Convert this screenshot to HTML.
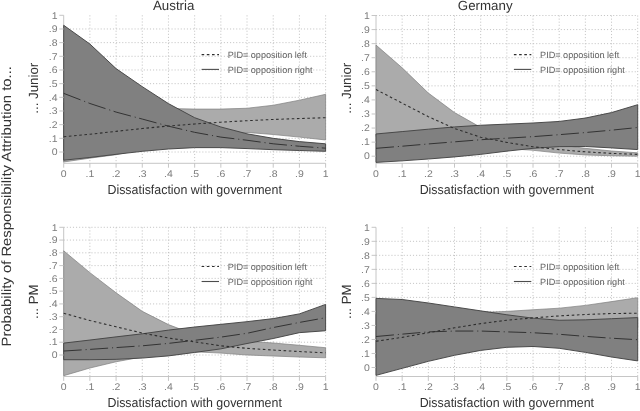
<!DOCTYPE html>
<html><head><meta charset="utf-8"><title>chart</title>
<style>
html,body{margin:0;padding:0;background:#fff;}
body{width:640px;height:411px;overflow:hidden;font-family:"Liberation Sans",sans-serif;}
svg{display:block;will-change:transform;}
text{font-family:"Liberation Sans",sans-serif;text-rendering:geometricPrecision;}
.g{stroke:#c0c0c0;stroke-width:0.9;stroke-dasharray:1.1 1.98;fill:none;}
.ax{stroke:#c0c0c0;stroke-width:0.9;fill:none;}
.tl{font-size:9.7px;fill:#7c7c7c;}
.t{font-size:13.3px;fill:#333333;}
.lg{font-size:9.1px;fill:#616161;}
.la{fill:#ababab;stroke:#7e7e7e;stroke-width:0.7;stroke-linejoin:miter;}
.da{fill:#808080;stroke:#444444;stroke-width:0.95;stroke-linejoin:miter;}
.dt{fill:none;stroke:#2e2e2e;stroke-width:1.08;stroke-dasharray:2.6 2.6;}
.dd{fill:none;stroke:#2e2e2e;stroke-width:0.95;stroke-dasharray:18 3.9 1.1 3.5;}
.ls{fill:none;stroke:#4c4c4c;stroke-width:1.1;}
</style></head>
<body>
<svg width="640" height="411" viewBox="0 0 640 411">
<rect x="0" y="0" width="640" height="411" fill="#ffffff"/>
<line x1="89.89" y1="15.3" x2="89.89" y2="163.3" class="g"/>
<line x1="116.08" y1="15.3" x2="116.08" y2="163.3" class="g"/>
<line x1="142.27" y1="15.3" x2="142.27" y2="163.3" class="g"/>
<line x1="168.46" y1="15.3" x2="168.46" y2="163.3" class="g"/>
<line x1="194.65" y1="15.3" x2="194.65" y2="163.3" class="g"/>
<line x1="220.84" y1="15.3" x2="220.84" y2="163.3" class="g"/>
<line x1="247.03" y1="15.3" x2="247.03" y2="163.3" class="g"/>
<line x1="273.22" y1="15.3" x2="273.22" y2="163.3" class="g"/>
<line x1="299.41" y1="15.3" x2="299.41" y2="163.3" class="g"/>
<line x1="325.6" y1="15.3" x2="325.6" y2="163.3" class="g"/>
<line x1="63.7" y1="152" x2="325.6" y2="152" class="g"/>
<line x1="63.7" y1="138.33" x2="325.6" y2="138.33" class="g"/>
<line x1="63.7" y1="124.66" x2="325.6" y2="124.66" class="g"/>
<line x1="63.7" y1="110.99" x2="325.6" y2="110.99" class="g"/>
<line x1="63.7" y1="97.32" x2="325.6" y2="97.32" class="g"/>
<line x1="63.7" y1="83.65" x2="325.6" y2="83.65" class="g"/>
<line x1="63.7" y1="69.98" x2="325.6" y2="69.98" class="g"/>
<line x1="63.7" y1="56.31" x2="325.6" y2="56.31" class="g"/>
<line x1="63.7" y1="42.64" x2="325.6" y2="42.64" class="g"/>
<line x1="63.7" y1="28.97" x2="325.6" y2="28.97" class="g"/>
<line x1="63.7" y1="15.3" x2="63.7" y2="163.3" class="ax"/>
<line x1="63.7" y1="163.3" x2="325.6" y2="163.3" class="ax"/>
<polygon points="63.7,102.79 89.89,104.84 116.08,106.21 142.27,107.57 168.46,108.53 194.65,109.08 220.84,109.08 247.03,108.26 273.22,105.25 299.41,100.19 325.6,94.31 325.6,139.97 299.41,137.1 273.22,134.5 247.03,132.45 220.84,133.55 194.65,138.33 168.46,143.8 142.27,149.27 116.08,154.73 89.89,158.15 63.7,161.98" class="la"/>
<polygon points="63.7,25.28 89.89,44.01 116.08,68.61 142.27,86.66 168.46,103.61 194.65,117.69 220.84,126.98 247.03,133.82 273.22,138.33 299.41,141.61 325.6,143.8 325.6,151.32 299.41,150.5 273.22,149.68 247.03,148.58 220.84,147.63 194.65,147.63 168.46,148.99 142.27,151.32 116.08,154.32 89.89,157.47 63.7,160.2" class="da"/>
<polyline points="63.7,136.83 89.89,134.23 116.08,131.36 142.27,128.49 168.46,126.03 194.65,123.98 220.84,122.2 247.03,120.7 273.22,119.47 299.41,118.51 325.6,117.69" class="dt"/>
<polyline points="63.7,93.36 89.89,103.47 116.08,112.08 142.27,119.06 168.46,126.16 194.65,132.32 220.84,137.1 247.03,140.24 273.22,143.8 299.41,146.26 325.6,148.17" class="dd"/>
<line x1="59.3" y1="152" x2="63.7" y2="152" class="ax"/>
<text transform="translate(57.5,155.2) scale(1.08,1)" class="tl" text-anchor="end">0</text>
<line x1="63.7" y1="163.3" x2="63.7" y2="167.7" class="ax"/>
<text transform="translate(63.7,176.9) scale(1.08,1)" class="tl" text-anchor="middle">0</text>
<line x1="59.3" y1="138.33" x2="63.7" y2="138.33" class="ax"/>
<text transform="translate(57.5,141.53) scale(1.08,1)" class="tl" text-anchor="end">.1</text>
<line x1="89.89" y1="163.3" x2="89.89" y2="167.7" class="ax"/>
<text transform="translate(89.89,176.9) scale(1.08,1)" class="tl" text-anchor="middle">.1</text>
<line x1="59.3" y1="124.66" x2="63.7" y2="124.66" class="ax"/>
<text transform="translate(57.5,127.86) scale(1.08,1)" class="tl" text-anchor="end">.2</text>
<line x1="116.08" y1="163.3" x2="116.08" y2="167.7" class="ax"/>
<text transform="translate(116.08,176.9) scale(1.08,1)" class="tl" text-anchor="middle">.2</text>
<line x1="59.3" y1="110.99" x2="63.7" y2="110.99" class="ax"/>
<text transform="translate(57.5,114.19) scale(1.08,1)" class="tl" text-anchor="end">.3</text>
<line x1="142.27" y1="163.3" x2="142.27" y2="167.7" class="ax"/>
<text transform="translate(142.27,176.9) scale(1.08,1)" class="tl" text-anchor="middle">.3</text>
<line x1="59.3" y1="97.32" x2="63.7" y2="97.32" class="ax"/>
<text transform="translate(57.5,100.52) scale(1.08,1)" class="tl" text-anchor="end">.4</text>
<line x1="168.46" y1="163.3" x2="168.46" y2="167.7" class="ax"/>
<text transform="translate(168.46,176.9) scale(1.08,1)" class="tl" text-anchor="middle">.4</text>
<line x1="59.3" y1="83.65" x2="63.7" y2="83.65" class="ax"/>
<text transform="translate(57.5,86.85) scale(1.08,1)" class="tl" text-anchor="end">.5</text>
<line x1="194.65" y1="163.3" x2="194.65" y2="167.7" class="ax"/>
<text transform="translate(194.65,176.9) scale(1.08,1)" class="tl" text-anchor="middle">.5</text>
<line x1="59.3" y1="69.98" x2="63.7" y2="69.98" class="ax"/>
<text transform="translate(57.5,73.18) scale(1.08,1)" class="tl" text-anchor="end">.6</text>
<line x1="220.84" y1="163.3" x2="220.84" y2="167.7" class="ax"/>
<text transform="translate(220.84,176.9) scale(1.08,1)" class="tl" text-anchor="middle">.6</text>
<line x1="59.3" y1="56.31" x2="63.7" y2="56.31" class="ax"/>
<text transform="translate(57.5,59.51) scale(1.08,1)" class="tl" text-anchor="end">.7</text>
<line x1="247.03" y1="163.3" x2="247.03" y2="167.7" class="ax"/>
<text transform="translate(247.03,176.9) scale(1.08,1)" class="tl" text-anchor="middle">.7</text>
<line x1="59.3" y1="42.64" x2="63.7" y2="42.64" class="ax"/>
<text transform="translate(57.5,45.84) scale(1.08,1)" class="tl" text-anchor="end">.8</text>
<line x1="273.22" y1="163.3" x2="273.22" y2="167.7" class="ax"/>
<text transform="translate(273.22,176.9) scale(1.08,1)" class="tl" text-anchor="middle">.8</text>
<line x1="59.3" y1="28.97" x2="63.7" y2="28.97" class="ax"/>
<text transform="translate(57.5,32.17) scale(1.08,1)" class="tl" text-anchor="end">.9</text>
<line x1="299.41" y1="163.3" x2="299.41" y2="167.7" class="ax"/>
<text transform="translate(299.41,176.9) scale(1.08,1)" class="tl" text-anchor="middle">.9</text>
<line x1="59.3" y1="15.3" x2="63.7" y2="15.3" class="ax"/>
<text transform="translate(57.5,18.5) scale(1.08,1)" class="tl" text-anchor="end">1</text>
<line x1="325.6" y1="163.3" x2="325.6" y2="167.7" class="ax"/>
<text transform="translate(325.6,176.9) scale(1.08,1)" class="tl" text-anchor="middle">1</text>
<text transform="translate(194.65,193.7) scale(0.954,1)" class="t" style="font-size:13px" text-anchor="middle">Dissatisfaction with government</text>
<line x1="201.6" y1="54.6" x2="219" y2="54.6" class="dt"/>
<line x1="201.6" y1="69.4" x2="219" y2="69.4" class="ls"/>
<text x="227.8" y="57.8" class="lg">PID= opposition left</text>
<text x="227.8" y="72.8" class="lg">PID= opposition right</text>
<line x1="402.17" y1="15.5" x2="402.17" y2="163.3" class="g"/>
<line x1="428.34" y1="15.5" x2="428.34" y2="163.3" class="g"/>
<line x1="454.51" y1="15.5" x2="454.51" y2="163.3" class="g"/>
<line x1="480.68" y1="15.5" x2="480.68" y2="163.3" class="g"/>
<line x1="506.85" y1="15.5" x2="506.85" y2="163.3" class="g"/>
<line x1="533.02" y1="15.5" x2="533.02" y2="163.3" class="g"/>
<line x1="559.19" y1="15.5" x2="559.19" y2="163.3" class="g"/>
<line x1="585.36" y1="15.5" x2="585.36" y2="163.3" class="g"/>
<line x1="611.53" y1="15.5" x2="611.53" y2="163.3" class="g"/>
<line x1="637.7" y1="15.5" x2="637.7" y2="163.3" class="g"/>
<line x1="376" y1="156.2" x2="637.7" y2="156.2" class="g"/>
<line x1="376" y1="142.13" x2="637.7" y2="142.13" class="g"/>
<line x1="376" y1="128.06" x2="637.7" y2="128.06" class="g"/>
<line x1="376" y1="113.99" x2="637.7" y2="113.99" class="g"/>
<line x1="376" y1="99.92" x2="637.7" y2="99.92" class="g"/>
<line x1="376" y1="85.85" x2="637.7" y2="85.85" class="g"/>
<line x1="376" y1="71.78" x2="637.7" y2="71.78" class="g"/>
<line x1="376" y1="57.71" x2="637.7" y2="57.71" class="g"/>
<line x1="376" y1="43.64" x2="637.7" y2="43.64" class="g"/>
<line x1="376" y1="29.57" x2="637.7" y2="29.57" class="g"/>
<line x1="376" y1="15.5" x2="637.7" y2="15.5" class="g"/>
<line x1="376" y1="15.5" x2="376" y2="163.3" class="ax"/>
<line x1="376" y1="163.3" x2="637.7" y2="163.3" class="ax"/>
<polygon points="376,45.05 402.17,67.84 428.34,93.03 454.51,112.58 480.68,127.36 506.85,135.09 533.02,140.72 559.19,144.94 585.36,148.32 611.53,150.99 637.7,152.82 637.7,156.2 611.53,155.78 585.36,154.93 559.19,153.1 533.02,150.29 506.85,148.46 480.68,146.35 454.51,144.24 428.34,142.13 402.17,139.32 376,136.5" class="la"/>
<polygon points="376,133.97 402.17,131.58 428.34,129.19 454.51,126.93 480.68,125.25 506.85,124.12 533.02,122.99 559.19,121.45 585.36,118.07 611.53,112.58 637.7,104.7 637.7,149.59 611.53,147.9 585.36,146.49 559.19,146.63 533.02,148.32 506.85,151.13 480.68,154.37 454.51,156.9 428.34,159.01 402.17,160.84 376,162.39" class="da"/>
<polyline points="376,89.51 402.17,103.16 428.34,116.66 454.51,128.48 480.68,137.21 506.85,142.41 533.02,146.77 559.19,149.59 585.36,151.84 611.53,153.39 637.7,154.37" class="dt"/>
<polyline points="376,148.32 402.17,146.21 428.34,143.96 454.51,141.85 480.68,139.74 506.85,138.19 533.02,136.64 559.19,134.67 585.36,132.56 611.53,130.17 637.7,127.5" class="dd"/>
<line x1="371.6" y1="156.2" x2="376" y2="156.2" class="ax"/>
<text transform="translate(369.8,159.4) scale(1.08,1)" class="tl" text-anchor="end">0</text>
<line x1="376" y1="163.3" x2="376" y2="167.7" class="ax"/>
<text transform="translate(376,176.9) scale(1.08,1)" class="tl" text-anchor="middle">0</text>
<line x1="371.6" y1="142.13" x2="376" y2="142.13" class="ax"/>
<text transform="translate(369.8,145.33) scale(1.08,1)" class="tl" text-anchor="end">.1</text>
<line x1="402.17" y1="163.3" x2="402.17" y2="167.7" class="ax"/>
<text transform="translate(402.17,176.9) scale(1.08,1)" class="tl" text-anchor="middle">.1</text>
<line x1="371.6" y1="128.06" x2="376" y2="128.06" class="ax"/>
<text transform="translate(369.8,131.26) scale(1.08,1)" class="tl" text-anchor="end">.2</text>
<line x1="428.34" y1="163.3" x2="428.34" y2="167.7" class="ax"/>
<text transform="translate(428.34,176.9) scale(1.08,1)" class="tl" text-anchor="middle">.2</text>
<line x1="371.6" y1="113.99" x2="376" y2="113.99" class="ax"/>
<text transform="translate(369.8,117.19) scale(1.08,1)" class="tl" text-anchor="end">.3</text>
<line x1="454.51" y1="163.3" x2="454.51" y2="167.7" class="ax"/>
<text transform="translate(454.51,176.9) scale(1.08,1)" class="tl" text-anchor="middle">.3</text>
<line x1="371.6" y1="99.92" x2="376" y2="99.92" class="ax"/>
<text transform="translate(369.8,103.12) scale(1.08,1)" class="tl" text-anchor="end">.4</text>
<line x1="480.68" y1="163.3" x2="480.68" y2="167.7" class="ax"/>
<text transform="translate(480.68,176.9) scale(1.08,1)" class="tl" text-anchor="middle">.4</text>
<line x1="371.6" y1="85.85" x2="376" y2="85.85" class="ax"/>
<text transform="translate(369.8,89.05) scale(1.08,1)" class="tl" text-anchor="end">.5</text>
<line x1="506.85" y1="163.3" x2="506.85" y2="167.7" class="ax"/>
<text transform="translate(506.85,176.9) scale(1.08,1)" class="tl" text-anchor="middle">.5</text>
<line x1="371.6" y1="71.78" x2="376" y2="71.78" class="ax"/>
<text transform="translate(369.8,74.98) scale(1.08,1)" class="tl" text-anchor="end">.6</text>
<line x1="533.02" y1="163.3" x2="533.02" y2="167.7" class="ax"/>
<text transform="translate(533.02,176.9) scale(1.08,1)" class="tl" text-anchor="middle">.6</text>
<line x1="371.6" y1="57.71" x2="376" y2="57.71" class="ax"/>
<text transform="translate(369.8,60.91) scale(1.08,1)" class="tl" text-anchor="end">.7</text>
<line x1="559.19" y1="163.3" x2="559.19" y2="167.7" class="ax"/>
<text transform="translate(559.19,176.9) scale(1.08,1)" class="tl" text-anchor="middle">.7</text>
<line x1="371.6" y1="43.64" x2="376" y2="43.64" class="ax"/>
<text transform="translate(369.8,46.84) scale(1.08,1)" class="tl" text-anchor="end">.8</text>
<line x1="585.36" y1="163.3" x2="585.36" y2="167.7" class="ax"/>
<text transform="translate(585.36,176.9) scale(1.08,1)" class="tl" text-anchor="middle">.8</text>
<line x1="371.6" y1="29.57" x2="376" y2="29.57" class="ax"/>
<text transform="translate(369.8,32.77) scale(1.08,1)" class="tl" text-anchor="end">.9</text>
<line x1="611.53" y1="163.3" x2="611.53" y2="167.7" class="ax"/>
<text transform="translate(611.53,176.9) scale(1.08,1)" class="tl" text-anchor="middle">.9</text>
<line x1="371.6" y1="15.5" x2="376" y2="15.5" class="ax"/>
<text transform="translate(369.8,18.7) scale(1.08,1)" class="tl" text-anchor="end">1</text>
<line x1="637.7" y1="163.3" x2="637.7" y2="167.7" class="ax"/>
<text transform="translate(637.7,176.9) scale(1.08,1)" class="tl" text-anchor="middle">1</text>
<text transform="translate(506.85,193.7) scale(0.954,1)" class="t" style="font-size:13px" text-anchor="middle">Dissatisfaction with government</text>
<line x1="513.9" y1="54.6" x2="531.3" y2="54.6" class="dt"/>
<line x1="513.9" y1="69.4" x2="531.3" y2="69.4" class="ls"/>
<text x="540.1" y="57.8" class="lg">PID= opposition left</text>
<text x="540.1" y="72.8" class="lg">PID= opposition right</text>
<line x1="89.89" y1="227.3" x2="89.89" y2="376.5" class="g"/>
<line x1="116.08" y1="227.3" x2="116.08" y2="376.5" class="g"/>
<line x1="142.27" y1="227.3" x2="142.27" y2="376.5" class="g"/>
<line x1="168.46" y1="227.3" x2="168.46" y2="376.5" class="g"/>
<line x1="194.65" y1="227.3" x2="194.65" y2="376.5" class="g"/>
<line x1="220.84" y1="227.3" x2="220.84" y2="376.5" class="g"/>
<line x1="247.03" y1="227.3" x2="247.03" y2="376.5" class="g"/>
<line x1="273.22" y1="227.3" x2="273.22" y2="376.5" class="g"/>
<line x1="299.41" y1="227.3" x2="299.41" y2="376.5" class="g"/>
<line x1="325.6" y1="227.3" x2="325.6" y2="376.5" class="g"/>
<line x1="63.7" y1="355" x2="325.6" y2="355" class="g"/>
<line x1="63.7" y1="342.23" x2="325.6" y2="342.23" class="g"/>
<line x1="63.7" y1="329.46" x2="325.6" y2="329.46" class="g"/>
<line x1="63.7" y1="316.69" x2="325.6" y2="316.69" class="g"/>
<line x1="63.7" y1="303.92" x2="325.6" y2="303.92" class="g"/>
<line x1="63.7" y1="291.15" x2="325.6" y2="291.15" class="g"/>
<line x1="63.7" y1="278.38" x2="325.6" y2="278.38" class="g"/>
<line x1="63.7" y1="265.61" x2="325.6" y2="265.61" class="g"/>
<line x1="63.7" y1="252.84" x2="325.6" y2="252.84" class="g"/>
<line x1="63.7" y1="240.07" x2="325.6" y2="240.07" class="g"/>
<line x1="63.7" y1="227.3" x2="325.6" y2="227.3" class="g"/>
<line x1="63.7" y1="227.3" x2="63.7" y2="376.5" class="ax"/>
<line x1="63.7" y1="376.5" x2="325.6" y2="376.5" class="ax"/>
<polygon points="63.7,250.8 89.89,272.63 116.08,292.81 142.27,311.33 168.46,324.61 194.65,334.57 220.84,339.04 247.03,341.21 273.22,343 299.41,345.29 325.6,347.72 325.6,357.81 299.41,357.04 273.22,356.02 247.03,355 220.84,353.08 194.65,351.81 168.46,353.47 142.27,356.92 116.08,361.77 89.89,368.03 63.7,375.69" class="la"/>
<polygon points="63.7,343.12 89.89,340.06 116.08,336.87 142.27,333.8 168.46,330.1 194.65,327.03 220.84,324.35 247.03,321.67 273.22,318.61 299.41,313.88 325.6,304.43 325.6,330.74 299.41,332.65 273.22,338.53 247.03,343.51 220.84,348.87 194.65,352.45 168.46,355.89 142.27,358.06 116.08,359.34 89.89,359.72 63.7,359.72" class="da"/>
<polyline points="63.7,313.24 89.89,320.52 116.08,326.78 142.27,333.04 168.46,338.02 194.65,341.85 220.84,345.81 247.03,348.36 273.22,350.02 299.41,351.55 325.6,352.83" class="dt"/>
<polyline points="63.7,351.04 89.89,349.38 116.08,347.59 142.27,345.81 168.46,343.38 194.65,340.31 220.84,337.12 247.03,333.29 273.22,327.54 299.41,322.44 325.6,317.71" class="dd"/>
<line x1="59.3" y1="355" x2="63.7" y2="355" class="ax"/>
<text transform="translate(57.5,358.2) scale(1.08,1)" class="tl" text-anchor="end">0</text>
<line x1="63.7" y1="376.5" x2="63.7" y2="380.9" class="ax"/>
<text transform="translate(63.7,390.1) scale(1.08,1)" class="tl" text-anchor="middle">0</text>
<line x1="59.3" y1="342.23" x2="63.7" y2="342.23" class="ax"/>
<text transform="translate(57.5,345.43) scale(1.08,1)" class="tl" text-anchor="end">.1</text>
<line x1="89.89" y1="376.5" x2="89.89" y2="380.9" class="ax"/>
<text transform="translate(89.89,390.1) scale(1.08,1)" class="tl" text-anchor="middle">.1</text>
<line x1="59.3" y1="329.46" x2="63.7" y2="329.46" class="ax"/>
<text transform="translate(57.5,332.66) scale(1.08,1)" class="tl" text-anchor="end">.2</text>
<line x1="116.08" y1="376.5" x2="116.08" y2="380.9" class="ax"/>
<text transform="translate(116.08,390.1) scale(1.08,1)" class="tl" text-anchor="middle">.2</text>
<line x1="59.3" y1="316.69" x2="63.7" y2="316.69" class="ax"/>
<text transform="translate(57.5,319.89) scale(1.08,1)" class="tl" text-anchor="end">.3</text>
<line x1="142.27" y1="376.5" x2="142.27" y2="380.9" class="ax"/>
<text transform="translate(142.27,390.1) scale(1.08,1)" class="tl" text-anchor="middle">.3</text>
<line x1="59.3" y1="303.92" x2="63.7" y2="303.92" class="ax"/>
<text transform="translate(57.5,307.12) scale(1.08,1)" class="tl" text-anchor="end">.4</text>
<line x1="168.46" y1="376.5" x2="168.46" y2="380.9" class="ax"/>
<text transform="translate(168.46,390.1) scale(1.08,1)" class="tl" text-anchor="middle">.4</text>
<line x1="59.3" y1="291.15" x2="63.7" y2="291.15" class="ax"/>
<text transform="translate(57.5,294.35) scale(1.08,1)" class="tl" text-anchor="end">.5</text>
<line x1="194.65" y1="376.5" x2="194.65" y2="380.9" class="ax"/>
<text transform="translate(194.65,390.1) scale(1.08,1)" class="tl" text-anchor="middle">.5</text>
<line x1="59.3" y1="278.38" x2="63.7" y2="278.38" class="ax"/>
<text transform="translate(57.5,281.58) scale(1.08,1)" class="tl" text-anchor="end">.6</text>
<line x1="220.84" y1="376.5" x2="220.84" y2="380.9" class="ax"/>
<text transform="translate(220.84,390.1) scale(1.08,1)" class="tl" text-anchor="middle">.6</text>
<line x1="59.3" y1="265.61" x2="63.7" y2="265.61" class="ax"/>
<text transform="translate(57.5,268.81) scale(1.08,1)" class="tl" text-anchor="end">.7</text>
<line x1="247.03" y1="376.5" x2="247.03" y2="380.9" class="ax"/>
<text transform="translate(247.03,390.1) scale(1.08,1)" class="tl" text-anchor="middle">.7</text>
<line x1="59.3" y1="252.84" x2="63.7" y2="252.84" class="ax"/>
<text transform="translate(57.5,256.04) scale(1.08,1)" class="tl" text-anchor="end">.8</text>
<line x1="273.22" y1="376.5" x2="273.22" y2="380.9" class="ax"/>
<text transform="translate(273.22,390.1) scale(1.08,1)" class="tl" text-anchor="middle">.8</text>
<line x1="59.3" y1="240.07" x2="63.7" y2="240.07" class="ax"/>
<text transform="translate(57.5,243.27) scale(1.08,1)" class="tl" text-anchor="end">.9</text>
<line x1="299.41" y1="376.5" x2="299.41" y2="380.9" class="ax"/>
<text transform="translate(299.41,390.1) scale(1.08,1)" class="tl" text-anchor="middle">.9</text>
<line x1="59.3" y1="227.3" x2="63.7" y2="227.3" class="ax"/>
<text transform="translate(57.5,230.5) scale(1.08,1)" class="tl" text-anchor="end">1</text>
<line x1="325.6" y1="376.5" x2="325.6" y2="380.9" class="ax"/>
<text transform="translate(325.6,390.1) scale(1.08,1)" class="tl" text-anchor="middle">1</text>
<text transform="translate(194.65,406.9) scale(0.954,1)" class="t" style="font-size:13px" text-anchor="middle">Dissatisfaction with government</text>
<line x1="201.6" y1="266.5" x2="219" y2="266.5" class="dt"/>
<line x1="201.6" y1="281.5" x2="219" y2="281.5" class="ls"/>
<text x="227.8" y="269.7" class="lg">PID= opposition left</text>
<text x="227.8" y="285.1" class="lg">PID= opposition right</text>
<line x1="402.17" y1="227.3" x2="402.17" y2="376.5" class="g"/>
<line x1="428.34" y1="227.3" x2="428.34" y2="376.5" class="g"/>
<line x1="454.51" y1="227.3" x2="454.51" y2="376.5" class="g"/>
<line x1="480.68" y1="227.3" x2="480.68" y2="376.5" class="g"/>
<line x1="506.85" y1="227.3" x2="506.85" y2="376.5" class="g"/>
<line x1="533.02" y1="227.3" x2="533.02" y2="376.5" class="g"/>
<line x1="559.19" y1="227.3" x2="559.19" y2="376.5" class="g"/>
<line x1="585.36" y1="227.3" x2="585.36" y2="376.5" class="g"/>
<line x1="611.53" y1="227.3" x2="611.53" y2="376.5" class="g"/>
<line x1="637.7" y1="227.3" x2="637.7" y2="376.5" class="g"/>
<line x1="376" y1="367.5" x2="637.7" y2="367.5" class="g"/>
<line x1="376" y1="353.48" x2="637.7" y2="353.48" class="g"/>
<line x1="376" y1="339.46" x2="637.7" y2="339.46" class="g"/>
<line x1="376" y1="325.44" x2="637.7" y2="325.44" class="g"/>
<line x1="376" y1="311.42" x2="637.7" y2="311.42" class="g"/>
<line x1="376" y1="297.4" x2="637.7" y2="297.4" class="g"/>
<line x1="376" y1="283.38" x2="637.7" y2="283.38" class="g"/>
<line x1="376" y1="269.36" x2="637.7" y2="269.36" class="g"/>
<line x1="376" y1="255.34" x2="637.7" y2="255.34" class="g"/>
<line x1="376" y1="241.32" x2="637.7" y2="241.32" class="g"/>
<line x1="376" y1="227.3" x2="376" y2="376.5" class="ax"/>
<line x1="376" y1="376.5" x2="637.7" y2="376.5" class="ax"/>
<polygon points="376,314.22 402.17,313.52 428.34,313.1 454.51,312.82 480.68,312.4 506.85,311.42 533.02,309.74 559.19,308.2 585.36,305.39 611.53,301.61 637.7,297.68 637.7,328.24 611.53,329.65 585.36,331.05 559.19,332.45 533.02,333.85 506.85,336.66 480.68,339.46 454.51,342.26 428.34,346.47 402.17,353.48 376,357.69" class="la"/>
<polygon points="376,298.38 402.17,299.5 428.34,303.01 454.51,306.93 480.68,310.86 506.85,314.78 533.02,318.15 559.19,320.25 585.36,319.83 611.53,318.71 637.7,317.59 637.7,360.91 611.53,356.99 585.36,352.36 559.19,348.29 533.02,346.47 506.85,347.31 480.68,350.4 454.51,355.3 428.34,361.33 402.17,368.34 376,375.35" class="da"/>
<polyline points="376,341.28 402.17,337.36 428.34,332.73 454.51,327.82 480.68,323.62 506.85,320.25 533.02,317.87 559.19,315.91 585.36,314.5 611.53,313.52 637.7,313.24" class="dt"/>
<polyline points="376,336.52 402.17,334.13 428.34,331.89 454.51,331.05 480.68,331.05 506.85,331.89 533.02,332.73 559.19,334.27 585.36,336.38 611.53,338.2 637.7,339.74" class="dd"/>
<line x1="371.6" y1="367.5" x2="376" y2="367.5" class="ax"/>
<text transform="translate(369.8,370.7) scale(1.08,1)" class="tl" text-anchor="end">0</text>
<line x1="376" y1="376.5" x2="376" y2="380.9" class="ax"/>
<text transform="translate(376,390.1) scale(1.08,1)" class="tl" text-anchor="middle">0</text>
<line x1="371.6" y1="353.48" x2="376" y2="353.48" class="ax"/>
<text transform="translate(369.8,356.68) scale(1.08,1)" class="tl" text-anchor="end">.1</text>
<line x1="402.17" y1="376.5" x2="402.17" y2="380.9" class="ax"/>
<text transform="translate(402.17,390.1) scale(1.08,1)" class="tl" text-anchor="middle">.1</text>
<line x1="371.6" y1="339.46" x2="376" y2="339.46" class="ax"/>
<text transform="translate(369.8,342.66) scale(1.08,1)" class="tl" text-anchor="end">.2</text>
<line x1="428.34" y1="376.5" x2="428.34" y2="380.9" class="ax"/>
<text transform="translate(428.34,390.1) scale(1.08,1)" class="tl" text-anchor="middle">.2</text>
<line x1="371.6" y1="325.44" x2="376" y2="325.44" class="ax"/>
<text transform="translate(369.8,328.64) scale(1.08,1)" class="tl" text-anchor="end">.3</text>
<line x1="454.51" y1="376.5" x2="454.51" y2="380.9" class="ax"/>
<text transform="translate(454.51,390.1) scale(1.08,1)" class="tl" text-anchor="middle">.3</text>
<line x1="371.6" y1="311.42" x2="376" y2="311.42" class="ax"/>
<text transform="translate(369.8,314.62) scale(1.08,1)" class="tl" text-anchor="end">.4</text>
<line x1="480.68" y1="376.5" x2="480.68" y2="380.9" class="ax"/>
<text transform="translate(480.68,390.1) scale(1.08,1)" class="tl" text-anchor="middle">.4</text>
<line x1="371.6" y1="297.4" x2="376" y2="297.4" class="ax"/>
<text transform="translate(369.8,300.6) scale(1.08,1)" class="tl" text-anchor="end">.5</text>
<line x1="506.85" y1="376.5" x2="506.85" y2="380.9" class="ax"/>
<text transform="translate(506.85,390.1) scale(1.08,1)" class="tl" text-anchor="middle">.5</text>
<line x1="371.6" y1="283.38" x2="376" y2="283.38" class="ax"/>
<text transform="translate(369.8,286.58) scale(1.08,1)" class="tl" text-anchor="end">.6</text>
<line x1="533.02" y1="376.5" x2="533.02" y2="380.9" class="ax"/>
<text transform="translate(533.02,390.1) scale(1.08,1)" class="tl" text-anchor="middle">.6</text>
<line x1="371.6" y1="269.36" x2="376" y2="269.36" class="ax"/>
<text transform="translate(369.8,272.56) scale(1.08,1)" class="tl" text-anchor="end">.7</text>
<line x1="559.19" y1="376.5" x2="559.19" y2="380.9" class="ax"/>
<text transform="translate(559.19,390.1) scale(1.08,1)" class="tl" text-anchor="middle">.7</text>
<line x1="371.6" y1="255.34" x2="376" y2="255.34" class="ax"/>
<text transform="translate(369.8,258.54) scale(1.08,1)" class="tl" text-anchor="end">.8</text>
<line x1="585.36" y1="376.5" x2="585.36" y2="380.9" class="ax"/>
<text transform="translate(585.36,390.1) scale(1.08,1)" class="tl" text-anchor="middle">.8</text>
<line x1="371.6" y1="241.32" x2="376" y2="241.32" class="ax"/>
<text transform="translate(369.8,244.52) scale(1.08,1)" class="tl" text-anchor="end">.9</text>
<line x1="611.53" y1="376.5" x2="611.53" y2="380.9" class="ax"/>
<text transform="translate(611.53,390.1) scale(1.08,1)" class="tl" text-anchor="middle">.9</text>
<line x1="371.6" y1="227.3" x2="376" y2="227.3" class="ax"/>
<text transform="translate(369.8,230.5) scale(1.08,1)" class="tl" text-anchor="end">1</text>
<line x1="637.7" y1="376.5" x2="637.7" y2="380.9" class="ax"/>
<text transform="translate(637.7,390.1) scale(1.08,1)" class="tl" text-anchor="middle">1</text>
<text transform="translate(506.85,406.9) scale(0.954,1)" class="t" style="font-size:13px" text-anchor="middle">Dissatisfaction with government</text>
<line x1="513.9" y1="266.5" x2="531.3" y2="266.5" class="dt"/>
<line x1="513.9" y1="281.5" x2="531.3" y2="281.5" class="ls"/>
<text x="540.1" y="269.7" class="lg">PID= opposition left</text>
<text x="540.1" y="285.1" class="lg">PID= opposition right</text>
<text x="173.7" y="9.7" class="t" text-anchor="middle">Austria</text>
<text x="485.2" y="9.7" class="t" text-anchor="middle">Germany</text>
<text transform="translate(11.1,206.3) rotate(-90) scale(1.108,1)" class="t" style="font-size:13.4px" text-anchor="middle">Probability of Responsibility Attribution to...</text>
<text transform="translate(38.2,88.2) rotate(-90)" class="t" text-anchor="middle">... Junior</text>
<text transform="translate(38.2,301.7) rotate(-90)" class="t" text-anchor="middle">... PM</text>
<text transform="translate(350.5,88.2) rotate(-90)" class="t" text-anchor="middle">... Junior</text>
<text transform="translate(350.5,301.7) rotate(-90)" class="t" text-anchor="middle">... PM</text>
</svg>
</body></html>
